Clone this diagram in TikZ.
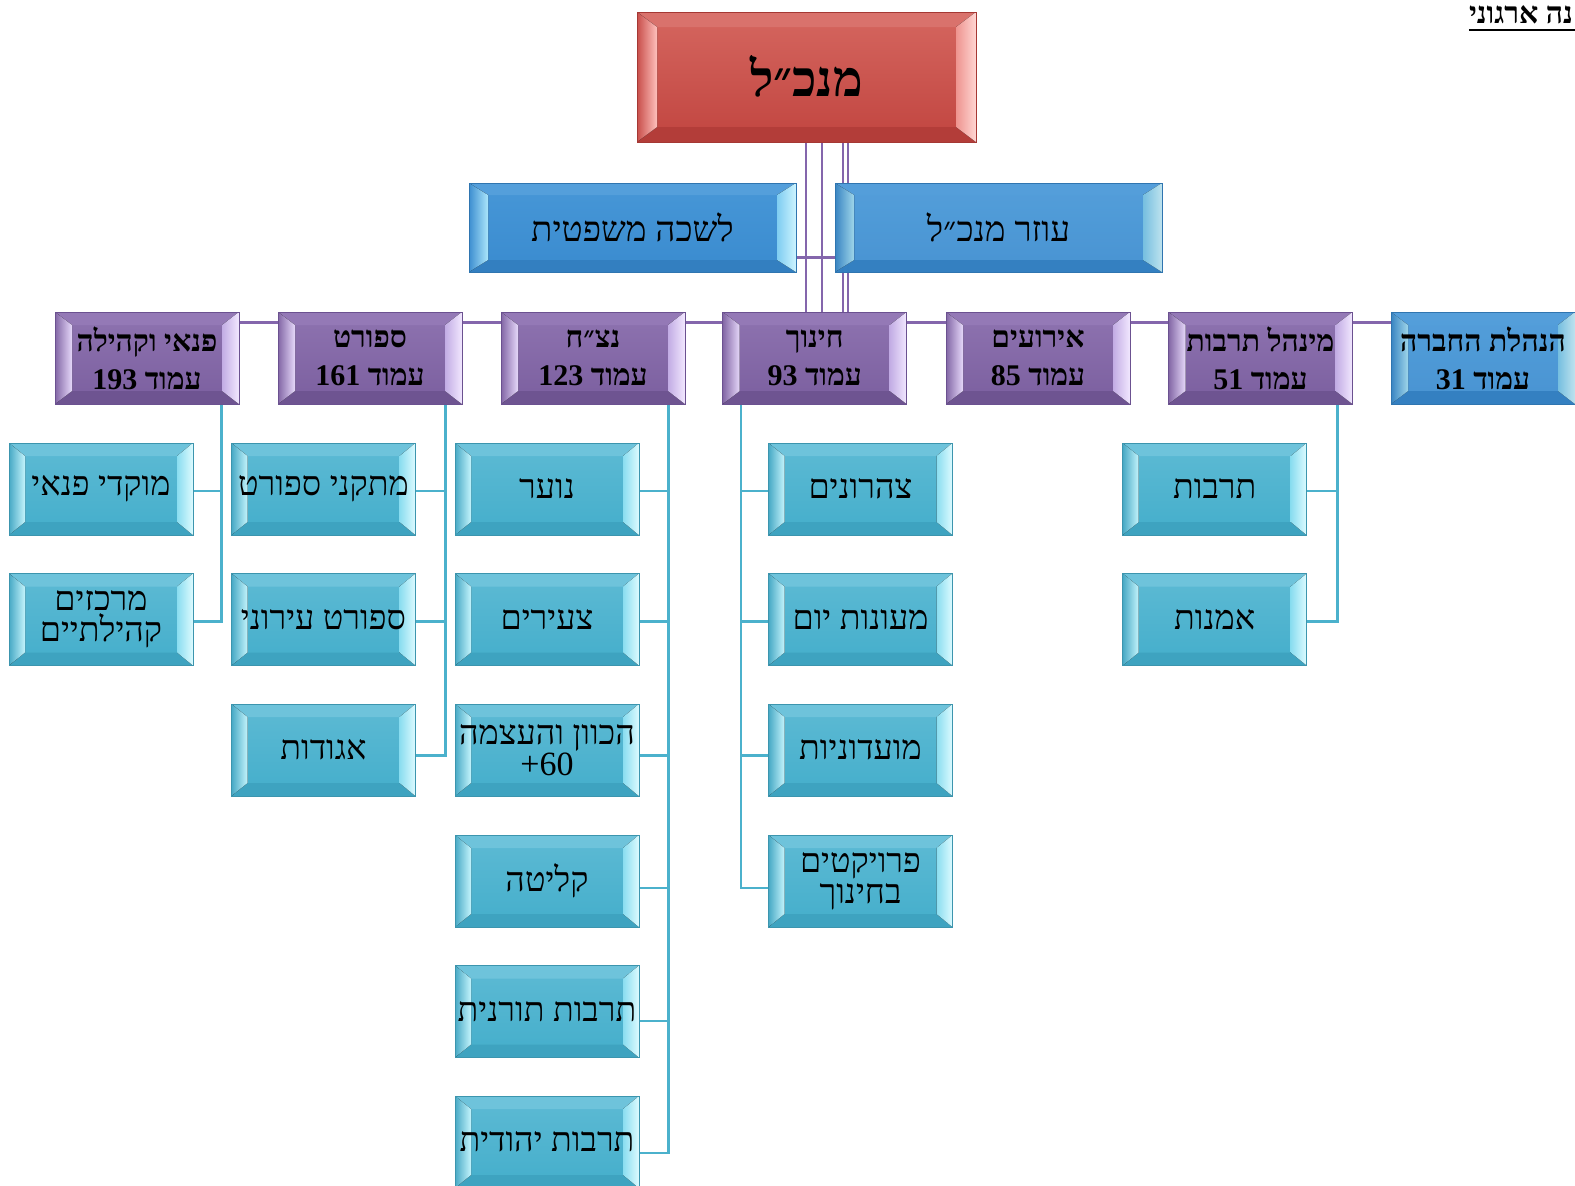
\documentclass[tikz,border=0pt]{standalone}
\usepackage{fontspec}
\TeXXeTstate=1
\newfontfamily\heb[Script=Hebrew]{Liberation Serif}
\newfontfamily\lat{Liberation Serif}
\usetikzlibrary{calc}
\pgfdeclarelayer{bg}
\pgfsetlayers{bg,main}
\newcommand\hb[1]{\beginR#1\endR}
% teal
\definecolor{tealF1}{HTML}{5DBAD4}\definecolor{tealF2}{HTML}{44AECB}\definecolor{tealB}{HTML}{3C95AE}
\definecolor{tealT}{HTML}{6EC3DB}\definecolor{tealD}{HTML}{3EA3C0}
\definecolor{tealL1}{HTML}{47A9C5}\definecolor{tealL2}{HTML}{C4F4FC}
\definecolor{tealR1}{HTML}{8ADDF0}\definecolor{tealR2}{HTML}{DDFBFF}
% purple
\definecolor{purF1}{HTML}{8E73B0}\definecolor{purF2}{HTML}{7B5F9F}\definecolor{purB}{HTML}{6B5190}
\definecolor{purT}{HTML}{9479B6}\definecolor{purD}{HTML}{6E5491}
\definecolor{purL1}{HTML}{8266A5}\definecolor{purL2}{HTML}{E6D8FA}
\definecolor{purR1}{HTML}{C2ACE4}\definecolor{purR2}{HTML}{F2E8FF}
% blue
\definecolor{bluF1}{HTML}{4797D7}\definecolor{bluF2}{HTML}{3A8BCF}\definecolor{bluB}{HTML}{2F75B0}
\definecolor{bluT}{HTML}{549FDB}\definecolor{bluD}{HTML}{337FC0}
\definecolor{bluL1}{HTML}{3D8ED0}\definecolor{bluL2}{HTML}{ABE6FB}
\definecolor{bluR1}{HTML}{7FCDF1}\definecolor{bluR2}{HTML}{CDF4FF}
% red
\definecolor{redF1}{HTML}{D5665F}\definecolor{redF2}{HTML}{C14540}\definecolor{redB}{HTML}{A53834}
\definecolor{redT}{HTML}{D9726C}\definecolor{redD}{HTML}{B33D39}
\definecolor{redL1}{HTML}{C84E4A}\definecolor{redL2}{HTML}{FFC0BC}
\definecolor{redR1}{HTML}{EE948F}\definecolor{redR2}{HTML}{FFD6D3}
\definecolor{plink}{HTML}{8466AC}
\definecolor{tlink}{HTML}{4BB1CC}
\tikzset{
  bvl/.style n args={3}{rectangle, draw=#1B, line width=0.8pt, top color=#1F1, bottom color=#1F2,
    inner sep=0pt, align=center, text=black,
    path picture={
      \fill[#1T] (path picture bounding box.north west) -- (path picture bounding box.north east)
        -- ([xshift=-#2,yshift=-#3]path picture bounding box.north east)
        -- ([xshift=#2,yshift=-#3]path picture bounding box.north west) -- cycle;
      \fill[#1D] (path picture bounding box.south west) -- (path picture bounding box.south east)
        -- ([xshift=-#2,yshift=#3]path picture bounding box.south east)
        -- ([xshift=#2,yshift=#3]path picture bounding box.south west) -- cycle;
      \fill[left color=#1L1, right color=#1L2] (path picture bounding box.north west)
        -- ([xshift=#2,yshift=-#3]path picture bounding box.north west)
        -- ([xshift=#2,yshift=#3]path picture bounding box.south west)
        -- (path picture bounding box.south west) -- cycle;
      \fill[left color=#1R1, right color=#1R2] (path picture bounding box.north east)
        -- ([xshift=-#2,yshift=-#3]path picture bounding box.north east)
        -- ([xshift=-#2,yshift=#3]path picture bounding box.south east)
        -- (path picture bounding box.south east) -- cycle;
    }},
  leaf/.style={bvl={teal}{16pt}{13pt}, minimum width=184pt, minimum height=92pt,
    font=\heb\fontsize{34}{31}\selectfont},
  dept/.style={bvl={pur}{17pt}{13pt}, minimum width=184pt, minimum height=92pt,
    font=\heb\bfseries\fontsize{30}{38}\selectfont},
  bdept/.style={bvl={blu}{17pt}{13pt}, minimum width=184pt, minimum height=92pt,
    font=\heb\bfseries\fontsize{30}{38}\selectfont},
  mid/.style={bvl={blu}{19pt}{12pt}, minimum width=327pt, minimum height=89pt,
    font=\heb\fontsize{35}{38}\selectfont},
  topbox/.style={bvl={red}{20pt}{15pt}, minimum width=339pt, minimum height=130pt,
    font=\heb\bfseries\fontsize{50}{56}\selectfont},
  pl/.style={draw=plink, line width=2.4pt},
  tl/.style={draw=tlink, line width=2.2pt},
  see/.style={fill opacity=0.93, text opacity=1},
}
\begin{document}
\begin{tikzpicture}[x=1pt,y=-1pt]
\useasboundingbox (0,0) rectangle (1575,1186);
\node[topbox] (ceo) at (806.5,77) {\raisebox{3pt}{\hb{מנכ״ל}}};
\node[mid] (legal) at (632.5,227.5) {\hb{לשכה משפטית}};
\node[mid,see] (deputy) at (998.5,227.5) {\hb{עוזר מנכ״ל}};
% department row
\node[dept] (pnai) at (147,358) {\hb{פנאי וקהילה}\\\hb{עמוד \beginL193\endL}};
\node[dept] (sport) at (370,358) {\hb{ספורט}\\\hb{עמוד \beginL161\endL}};
\node[dept] (netzach) at (593,358) {\hb{נצ״ח}\\\hb{עמוד \beginL123\endL}};
\node[dept] (chinuch) at (814.7,358) {\hb{חינוך}\\\hb{עמוד \beginL93\endL}};
\node[dept] (events) at (1038,358) {\hb{אירועים}\\\hb{עמוד \beginL85\endL}};
\node[dept] (culture) at (1260.5,358) {\hb{מינהל תרבות}\\\hb{עמוד \beginL51\endL}};
\node[bdept,see] (mgmt) at (1483,358) {\hb{הנהלת החברה}\\\hb{עמוד \beginL31\endL}};
% leaves
\node[leaf] (a1) at (101,489) {\hb{מוקדי פנאי}};
\node[leaf] (a2) at (101,619.5) {\hb{מרכזים}\\\hb{קהילתיים}};
\node[leaf] (b1) at (323.5,489) {\hb{מתקני ספורט}};
\node[leaf] (b2) at (323.5,619.5) {\hb{ספורט עירוני}};
\node[leaf] (b3) at (323.5,750) {\hb{אגודות}};
\node[leaf] (c1) at (547,489) {\hb{נוער}};
\node[leaf] (c2) at (547,619.5) {\hb{צעירים}};
\node[leaf] (c3) at (547,750) {\hb{הכוון והעצמה}\\{\lat +60}};
\node[leaf] (c4) at (547,881) {\hb{קליטה}};
\node[leaf] (c5) at (547,1011.5) {\hb{תרבות תורנית}};
\node[leaf] (c6) at (547,1142) {\hb{תרבות יהודית}};
\node[leaf] (d1) at (860.5,489) {\hb{צהרונים}};
\node[leaf] (d2) at (860.5,619.5) {\hb{מעונות יום}};
\node[leaf] (d3) at (860.5,750) {\hb{מועדוניות}};
\node[leaf] (d4) at (860.5,881) {\hb{פרויקטים}\\\hb{בחינוך}};
\node[leaf] (e1) at (1214.7,489) {\hb{תרבות}};
\node[leaf] (e2) at (1214.7,619.5) {\hb{אמנות}};
\begin{pgfonlayer}{bg}
% purple connectors
\foreach \dx in {-0.5,15.5,36.5,41.5}
  \draw[pl] ([xshift=\dx pt]ceo.south) -- ([xshift=\dx pt]ceo.south |- chinuch.north);
\draw[pl] ([yshift=-30pt]legal.east) -- ([yshift=-30pt]legal.east -| deputy.west);
\draw[pl] ([yshift=-11pt]pnai.north east) -- ([yshift=-11pt,xshift=137pt]mgmt.north west);
% teal connectors
\draw[tl] ([xshift=-18pt]pnai.south east) |- ([yshift=-2pt]a1.east);
\draw[tl] ([xshift=-18pt]pnai.south east) |- ([yshift=-2pt]a2.east);
\draw[tl] ([xshift=-17pt]sport.south east) |- ([yshift=-2pt]b1.east);
\draw[tl] ([xshift=-17pt]sport.south east) |- ([yshift=-2pt]b2.east);
\draw[tl] ([xshift=-17pt]sport.south east) |- ([yshift=-5.5pt]b3.east);
\draw[tl] ([xshift=-17pt]netzach.south east) |- ([yshift=-2pt]c1.east);
\draw[tl] ([xshift=-17pt]netzach.south east) |- ([yshift=-2pt]c2.east);
\draw[tl] ([xshift=-17pt]netzach.south east) |- ([yshift=-5.5pt]c3.east);
\draw[tl] ([xshift=-17pt]netzach.south east) |- ([yshift=-7pt]c4.east);
\draw[tl] ([xshift=-17pt]netzach.south east) |- ([yshift=-9.5pt]c5.east);
\draw[tl] ([xshift=-17pt]netzach.south east) |- ([yshift=-11pt]c6.east);
\draw[tl] ([xshift=19pt]chinuch.south west) |- ([yshift=-2pt]d1.west);
\draw[tl] ([xshift=19pt]chinuch.south west) |- ([yshift=-2pt]d2.west);
\draw[tl] ([xshift=19pt]chinuch.south west) |- ([yshift=-5.5pt]d3.west);
\draw[tl] ([xshift=19pt]chinuch.south west) |- ([yshift=-7pt]d4.west);
\draw[tl] ([xshift=-15.5pt]culture.south east) |- ([yshift=-2pt]e1.east);
\draw[tl] ([xshift=-15.5pt]culture.south east) |- ([yshift=-2pt]e2.east);
\end{pgfonlayer}
% title
\node[font=\heb\bfseries\fontsize{30}{34}\selectfont, anchor=base east, inner sep=0pt] (title) at (1573,23) {\hb{נה ארגוני}};
\draw[line width=2pt] ([yshift=-7pt]title.base west) -- ([yshift=-7pt]title.base east -| 1575,0);
\end{tikzpicture}
\end{document}
